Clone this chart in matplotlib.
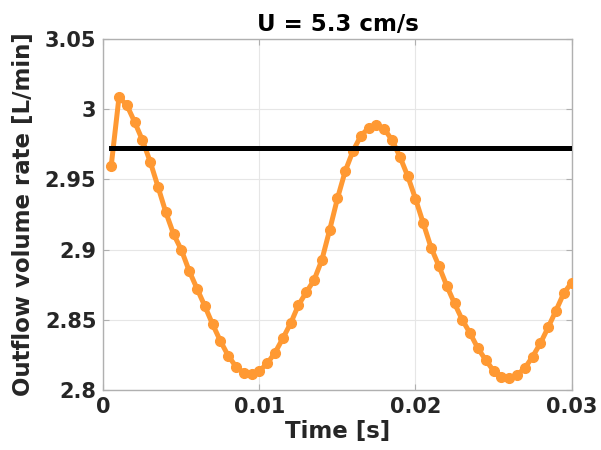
import numpy as np
import matplotlib.pyplot as plt

# time samples [s] and outflow volume rate [L/min]
time = np.arange(1, 61) * 0.0005
outflow = [2.9595, 3.0085, 3.003, 2.991, 2.978, 2.9626, 2.9448, 2.9266, 2.911, 2.8997,
           2.8848, 2.8722, 2.8598, 2.8468, 2.8349, 2.8244, 2.8166, 2.8123, 2.8112, 2.8135,
           2.819, 2.8266, 2.8368, 2.8475, 2.8605, 2.8696, 2.8783, 2.8926, 2.914, 2.9365,
           2.956, 2.9704, 2.981, 2.9868, 2.9887, 2.9859, 2.978, 2.9662, 2.9524, 2.9362,
           2.9187, 2.9014, 2.8883, 2.8743, 2.8617, 2.8499, 2.8404, 2.8297, 2.8214, 2.8137,
           2.8095, 2.8083, 2.8107, 2.8155, 2.8237, 2.8332, 2.8446, 2.8565, 2.8689, 2.8764]
mean_flow = 2.9726

xticks = [0, 0.01, 0.02, 0.03]
xticklabels = ['0', '0.01', '0.02', '0.03']
yticks = [2.8, 2.85, 2.9, 2.95, 3.0, 3.05]
yticklabels = ['2.8', '2.85', '2.9', '2.95', '3', '3.05']

plt.rcParams['font.family'] = 'DejaVu Sans'
plt.rcParams['font.weight'] = 'bold'

fig = plt.figure(figsize=(6.01, 4.5), dpi=100)
ax = fig.add_axes([0.172, 0.1333, 0.779, 0.78])

ax.plot(time, outflow, '-o', color='#ff9933', lw=3.6, ms=7, zorder=3)
ax.plot([time[0], time[-1]], [mean_flow, mean_flow], '-', color='black', lw=3.6, zorder=4)

ax.set_xlim(0, 0.03)
ax.set_ylim(2.8, 3.05)
ax.set_xticks(xticks)
ax.set_xticklabels(xticklabels)
ax.set_yticks(yticks)
ax.set_yticklabels(yticklabels)

ax.grid(True, color='#e6e6e6', lw=0.8)
ax.set_axisbelow(True)
for s in ax.spines.values():
    s.set_color('#b0b0b0')
    s.set_linewidth(1.0)
ax.tick_params(direction='in', length=4, width=0.8, color='#b0b0b0',
               labelcolor='#262626', labelsize=15, top=True, right=True, pad=5)
for lab in ax.get_xticklabels() + ax.get_yticklabels():
    lab.set_fontweight('bold')

ax.set_xlabel('Time [s]', fontsize=16.5, fontweight='bold', color='#262626', labelpad=2)
ax.set_ylabel('Outflow volume rate [L/min]', fontsize=16.5, fontweight='bold',
              color='#262626', labelpad=7)
ax.set_title('U = 5.3 cm/s', fontsize=16.5, fontweight='bold', color='black', pad=6)

plt.savefig('out.png', dpi=100)
